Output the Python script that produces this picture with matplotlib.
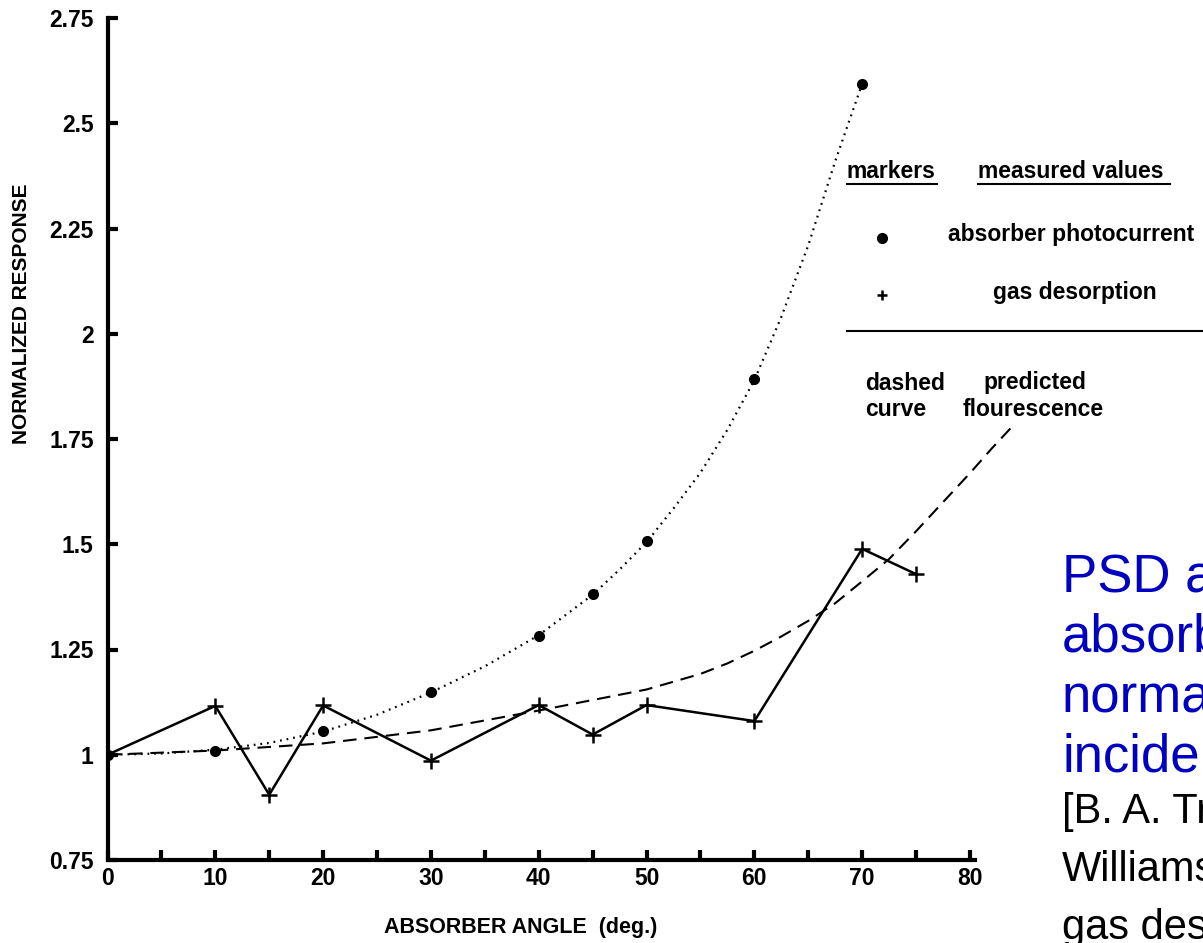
import matplotlib
matplotlib.use("Agg")
import matplotlib.pyplot as plt
from matplotlib.lines import Line2D

plt.rcParams['font.family'] = ['Liberation Sans', 'DejaVu Sans']

# Measured absorber photocurrent (dots)
photo_angle = [0, 10, 20, 30, 40, 45, 50, 60, 70]
photo_value = [1.0, 1.01, 1.056, 1.148, 1.283, 1.382, 1.508, 1.892, 2.594]

# Smooth fit through the photocurrent (dotted)
photo_fit_angle = [0, 5, 10, 15, 20, 25, 30, 35, 40, 45, 47.5, 50, 52.5, 55,
                   57.5, 60, 62.5, 65, 67.5, 70]
photo_fit_value = [1.0, 1.003, 1.012, 1.028, 1.055, 1.095, 1.148, 1.21, 1.284,
                   1.38, 1.44, 1.505, 1.585, 1.67, 1.772, 1.89, 2.04, 2.21,
                   2.41, 2.594]

# Measured gas desorption (plus markers, solid)
gas_angle = [0, 10, 15, 20, 30, 40, 45, 50, 60, 70, 75]
gas_value = [1.0, 1.116, 0.905, 1.117, 0.986, 1.118, 1.048, 1.118, 1.080, 1.489, 1.429]

# Predicted fluorescence (dashed)
pred_angle = [0, 10, 20, 30, 40, 45, 50, 55, 57.5, 60, 62.5, 65, 67.5, 70,
              72.5, 75, 77.5, 80, 82, 84]
pred_value = [1.0, 1.01, 1.027, 1.058, 1.105, 1.13, 1.155, 1.192, 1.217, 1.247,
              1.281, 1.318, 1.36, 1.412, 1.465, 1.531, 1.6, 1.669, 1.727, 1.782]

x_ticks = [0, 10, 20, 30, 40, 50, 60, 70, 80]
x_minor = [5, 15, 25, 35, 45, 55, 65, 75]
y_ticks = [0.75, 1, 1.25, 1.5, 1.75, 2, 2.25, 2.5, 2.75]
y_tick_labels = ['0.75', '1', '1.25', '1.5', '1.75', '2', '2.25', '2.5', '2.75']

W, H = 1203, 943
fig = plt.figure(figsize=(W / 100, H / 100), dpi=100)


def fx(px):
    return px / W


def fy(py):
    return 1 - py / H


ax = fig.add_axes([fx(107.5), fy(860), (970 - 107.5) / W, (860 - 18) / H])
ax.set_xlim(0, 80)
ax.set_ylim(0.75, 2.75)

for side in ('top', 'right'):
    ax.spines[side].set_visible(False)
for side in ('left', 'bottom'):
    ax.spines[side].set_linewidth(3)
ax.spines['bottom'].set_bounds(0, 80.5)

ax.set_xticks(x_ticks)
ax.set_xticks(x_minor, minor=True)
ax.set_yticks(y_ticks)
ax.set_yticklabels(y_tick_labels)
ax.tick_params(axis='both', which='both', direction='in', width=3, length=7,
               labelsize=16.5)
ax.tick_params(axis='x', which='both', pad=5)
ax.tick_params(axis='y', which='both', pad=10)
for lab in ax.get_xticklabels() + ax.get_yticklabels():
    lab.set_fontweight('bold')

ax.plot(photo_fit_angle, photo_fit_value, color='black', lw=1.6,
        linestyle=(0, (0.8, 2.2)))
ax.plot(pred_angle, pred_value, color='black', lw=1.5,
        linestyle=(0, (6.5, 3.8)), clip_on=False)
ax.plot(gas_angle, gas_value, color='black', lw=1.8, marker='+',
        markersize=11, markeredgewidth=1.8)
ax.plot(photo_angle, photo_value, linestyle='none', marker='o', color='black',
        markersize=7)

fig.text(fx(22), fy(314), 'NORMALIZED RESPONSE', rotation=90, ha='center',
         va='center', fontsize=15, fontweight='bold')
fig.text(fx(521), fy(928), 'ABSORBER ANGLE  (deg.)', ha='center', va='center',
         fontsize=15.5, fontweight='bold')

# Key drawn beside the curves
key_size = 16.5
fig.text(fx(847), fy(172), 'markers', ha='left', va='center',
         fontsize=key_size, fontweight='bold')
fig.text(fx(978), fy(172), 'measured values', ha='left', va='center',
         fontsize=key_size, fontweight='bold')
fig.add_artist(Line2D([fx(847), fx(937)], [fy(184), fy(184)], color='black', lw=1.5))
fig.add_artist(Line2D([fx(978), fx(1170)], [fy(184), fy(184)], color='black', lw=1.5))
fig.add_artist(Line2D([fx(882)], [fy(238)], marker='o', color='black',
                      markersize=7, linestyle='none'))
fig.text(fx(948), fy(234), 'absorber photocurrent', ha='left', va='center',
         fontsize=key_size, fontweight='bold')
fig.add_artist(Line2D([fx(882)], [fy(295)], marker='+', color='black',
                      markersize=7, markeredgewidth=1.8, linestyle='none'))
fig.text(fx(1075), fy(293), 'gas desorption', ha='center', va='center',
         fontsize=key_size, fontweight='bold')
fig.add_artist(Line2D([fx(847), fx(1203)], [fy(331), fy(331)], color='black', lw=1.5))
fig.text(fx(865), fy(383), 'dashed', ha='left', va='center',
         fontsize=key_size, fontweight='bold')
fig.text(fx(983), fy(383), 'predicted', ha='left', va='center',
         fontsize=key_size, fontweight='bold')
fig.text(fx(865), fy(410), 'curve', ha='left', va='center',
         fontsize=key_size, fontweight='bold')
fig.text(fx(963), fy(410), 'flourescence', ha='left', va='center',
         fontsize=key_size, fontweight='bold')

# Caption at the right edge
blue = '#0000C0'
for i, line in enumerate(['PSD and', 'absorber', 'normal', 'incidence']):
    fig.text(fx(1062), fy(578 + 60 * i), line, ha='left', va='center',
             fontsize=38, color=blue)
for i, line in enumerate(['[B. A. Trickett', 'Williams', 'gas desorption']):
    fig.text(fx(1062), fy(812 + 58 * i), line, ha='left', va='center',
             fontsize=30, color='black')

fig.savefig('out.png', dpi=100)
